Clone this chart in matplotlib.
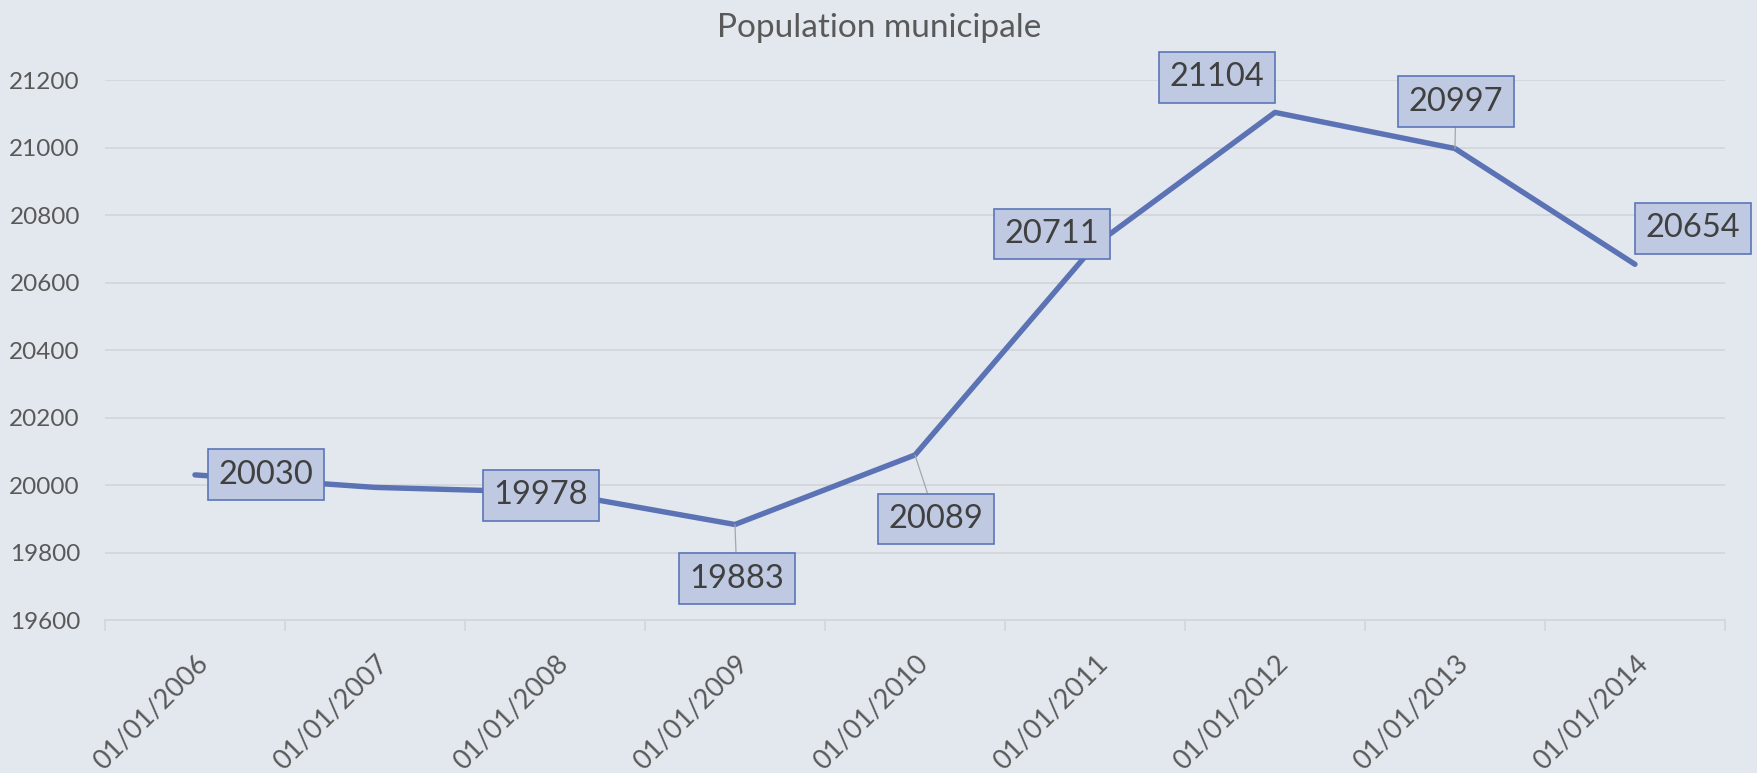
import matplotlib
matplotlib.use("Agg")
import matplotlib.pyplot as plt
import numpy as np

# Population municipale (Excel chart)
dates = ["01/01/2006", "01/01/2007", "01/01/2008", "01/01/2009", "01/01/2010",
         "01/01/2011", "01/01/2012", "01/01/2013", "01/01/2014"]
population = [20030, 19993, 19978, 19883, 20089, 20711, 21104, 20997, 20654]
show_label = [True, False, True, True, True, True, True, True, True]

# label box offsets (pixels) and whether a leader line is drawn
lab_dx = [71, 0, -14, 2, 21, -43, -58, 1, 58]
lab_dy = [0, 0, -3, -54, -64, 11, 35, 47, 36]
leader = [False, False, False, True, True, False, False, True, False]

bg = "#E3E8EF"
line_col = "#5B72B5"
txt_col = "#595959"

plt.rcParams['font.family'] = ['Lato', 'DejaVu Sans']

fig = plt.figure(figsize=(17.58, 7.73), dpi=100, facecolor=bg)
ax = fig.add_axes([0.0597, 0.1979, 0.9215, 0.6986], facecolor=bg)

x = np.arange(len(dates))
ax.plot(x, population, color=line_col, lw=3.9, solid_capstyle='round', zorder=3)

for i in range(len(x)):
    if not show_label[i]:
        continue
    props = None
    if leader[i]:
        props = dict(arrowstyle='-', color='#A6A6A6', lw=0.9, shrinkA=0, shrinkB=0)
    ax.annotate(str(population[i]), xy=(x[i], population[i]),
                xytext=(lab_dx[i], lab_dy[i]), textcoords='offset pixels',
                ha='center', va='center', fontsize=23.5, color='#404040',
                bbox=dict(boxstyle='square,pad=0.32', fc='#BFC9E2', ec='#5B75B8', lw=1.2),
                arrowprops=props, zorder=5)

ax.set_xlim(-0.5, len(dates) - 0.5)
ax.set_ylim(19600, 21200)
ax.set_yticks(np.arange(19600, 21201, 200))
ax.grid(axis='y', color='#D3D7DC', lw=1.3)
ax.set_axisbelow(True)

ax.set_xticks(x)
ax.set_xticklabels(dates, rotation=45, ha='right', va='top', rotation_mode='anchor')
ax.set_xticks(np.arange(-0.5, len(dates)), minor=True)
ax.tick_params(axis='x', which='major', length=0, pad=22, labelsize=19.5, labelcolor=txt_col)
ax.tick_params(axis='x', which='minor', length=8, width=1.2, color='#D3D7DC')
ax.tick_params(axis='y', length=0, pad=18, labelsize=17.5, labelcolor=txt_col)

for s in ['top', 'right', 'left']:
    ax.spines[s].set_visible(False)
ax.spines['bottom'].set_color('#D3D7DC')
ax.spines['bottom'].set_linewidth(1.3)

fig.suptitle("Population municipale", x=0.5, y=0.964, va='center',
             fontsize=24, color=txt_col)

fig.savefig("out.png", dpi=100, facecolor=bg)
